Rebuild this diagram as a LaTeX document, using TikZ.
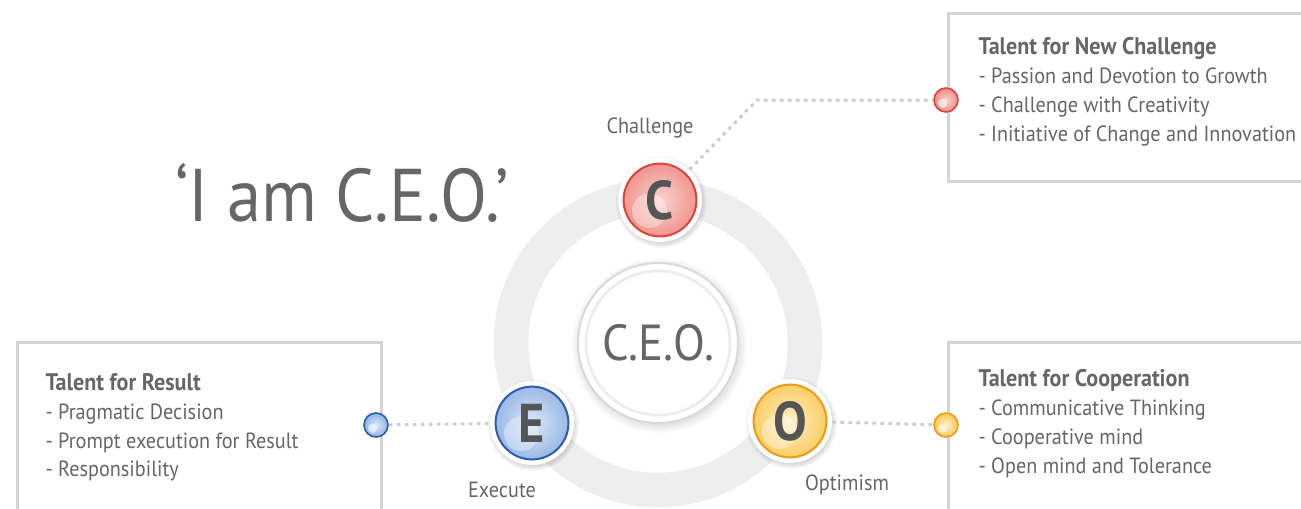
\documentclass[tikz,border=0pt]{standalone}
\usepackage{fontspec}
\setmainfont[FakeStretch=0.92]{PT Sans}
\usetikzlibrary{shadows}

\definecolor{textgray}{HTML}{666666}
\definecolor{lettergray}{HTML}{555555}
\definecolor{boxgray}{HTML}{D4D4D4}
\definecolor{dotgray}{HTML}{CCCCCC}
\definecolor{ringgray}{HTML}{EEEEEE}
\definecolor{redrim}{HTML}{D9453F}
\definecolor{redin}{HTML}{FBD3CF}
\definecolor{redout}{HTML}{EE8C84}
\definecolor{bluerim}{HTML}{2F5DAE}
\definecolor{bluein}{HTML}{DCE8F8}
\definecolor{blueout}{HTML}{8FB2E2}
\definecolor{yelrim}{HTML}{F09A1A}
\definecolor{yelin}{HTML}{FEF0C8}
\definecolor{yelout}{HTML}{F9C955}

\newcommand{\talenthead}[1]{{\fontsize{18}{21.6}\selectfont\textbf{#1}}}

\tikzset{every picture/.style={line width=0.75pt}}
\tikzset{
  talentbox/.style={draw=boxgray, line width=2.25pt, fill=white, rectangle, inner sep=0pt, anchor=north west},
  talenttext/.style={anchor=north west, align=left, text=textgray, inner sep=0pt, font=\fontsize{16.5}{21.6}\selectfont},
  ceolabel/.style={text=textgray, font=\fontsize{16.5}{18}\selectfont},
  dotline/.style={draw=dotgray, line width=2.25pt, dash pattern=on 2.6pt off 3.4pt},
  ceoball/.style n args={3}{circle, fill=white, minimum size=63pt, inner sep=0pt, text=lettergray,
    font=\fontsize{41}{41}\selectfont\bfseries,
    circular drop shadow={shadow xshift=0.6pt, shadow yshift=-1.2pt, opacity=0.35},
    path picture={
      \shade[inner color=#1, outer color=#2] (path picture bounding box.center) circle (27.8pt);
      \draw[#3, line width=1.5pt] (path picture bounding box.center) circle (27.3pt);
      \fill[white, opacity=0.35] ([shift={(-8pt,-8pt)}]path picture bounding box.center) circle (13pt);
    }},
  smallball/.style n args={3}{circle, minimum size=18pt, inner sep=0pt, draw=#3, line width=1.2pt,
    inner color=#1, outer color=#2,
    path picture={
      \fill[white, opacity=0.6] ([shift={(-2.5pt,-2.5pt)}]path picture bounding box.center) circle (3.5pt);
    }},
}

\begin{document}
\begin{tikzpicture}[x=0.75pt,y=0.75pt,yscale=-1,xscale=1]
	\useasboundingbox (0,0) rectangle (1301,508);
	\clip (0,0) rectangle (1301,508);

	%Shape: Ring
	\draw [ringgray, line width=26pt] (658,343) circle (147);

	%Shape: Circle (centre)
	\node [circle, fill=white, draw=gray!30, line width=1.5pt, minimum size=120pt, inner sep=0pt,
	  circular drop shadow={shadow xshift=0.6pt, shadow yshift=-1.5pt, opacity=0.3}, text=textgray,
	  font=\fontsize{38}{38}\selectfont] (ceo) at (658,343) {C.E.O.};
	\draw [gray!15, line width=2pt] (ceo.center) circle (72);

	%Shape: Balls
	\node [ceoball={redin}{redout}{redrim}] (cball) at (660,200) {C};
	\node [ceoball={bluein}{blueout}{bluerim}] (eball) at (532,423) {E};
	\node [ceoball={yelin}{yelout}{yelrim}] (oball) at (790,421) {O};

	% Text Node
	\node [ceolabel] (clabel) at (650,128) {Challenge};
	\node [ceolabel] (elabel) at (502,490) {Execute};
	\node [ceolabel] (olabel) at (847,485) {Optimism};

	% Text Node
	\node [text=textgray, font=\fontsize{56}{56}\selectfont] (title) at (342,193) {‘I am C.E.O.’};

	%Shape: Boxes
	\node [talentbox, minimum width=300pt, minimum height=126pt] (newbox) at (947,12) {};
	\node [talentbox, minimum width=273pt, minimum height=130pt] (resultbox) at (16,341) {};
	\node [talentbox, minimum width=300pt, minimum height=130pt] (coopbox) at (947,341) {};

	% Text Node
	\node [talenttext] (newtext) at (978,37) {\talenthead{Talent for New Challenge}\\- Passion and Devotion to Growth\\- Challenge with Creativity\\- Initiative of Change and Innovation};
	\node [talenttext] (resulttext) at (45,373) {\talenthead{Talent for Result}\\- Pragmatic Decision\\- Prompt execution for Result\\- Responsibility};
	\node [talenttext] (cooptext) at (978,369) {\talenthead{Talent for Cooperation}\\- Communicative Thinking\\- Cooperative mind\\- Open mind and Tolerance};

	%Shape: Small balls
	\node [smallball={redin}{redout}{redrim}] (redball) at (946,100) {};
	\node [smallball={bluein}{blueout}{bluerim}] (blueball) at (376,425) {};
	\node [smallball={yelin}{yelout}{yelrim}] (yelball) at (946,425) {};

	%Straight Lines
	\coordinate (cbend) at (757,100);
	\draw [dotline] (cball) -- (cbend) -- (redball);
	\draw [dotline] (blueball) -- (eball);
	\draw [dotline] (oball) -- (yelball);

\end{tikzpicture}
\end{document}
